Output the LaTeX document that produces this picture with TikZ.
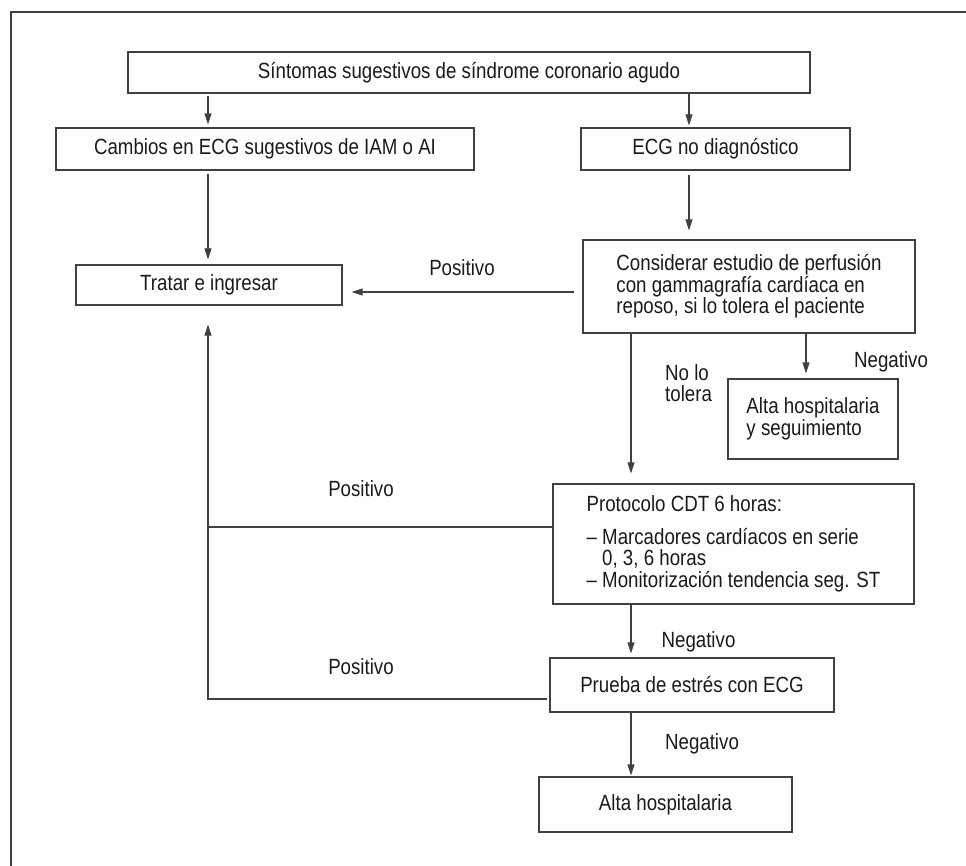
\documentclass[tikz,border=0pt]{standalone}
\usepackage{fontspec}
\setmainfont{Liberation Sans}[FakeStretch=0.85]
\usetikzlibrary{arrows.meta}
\definecolor{linec}{HTML}{404040}
\definecolor{textc}{HTML}{1A1A1A}
\tikzset{
  box/.style={draw=linec, line width=1.2pt, fill=white, inner sep=0pt, text=textc},
  lbl/.style={inner sep=0pt, text=textc},
  conn/.style={draw=linec, line width=1.2pt},
  arr/.style={conn, -{Triangle[length=11pt,width=7pt]}},
}
\begin{document}
\begin{tikzpicture}[x=1pt, y=-1pt, font={\fontsize{22}{21.5}\selectfont}]
\useasboundingbox (0,0) rectangle (966,866);
\draw[conn] (966,12) -- (11,12) -- (11,866);

% coordinates for connector positions
\coordinate (xL) at (208,0);
\coordinate (xR) at (689,0);
\coordinate (xM) at (631,0);
\coordinate (xN) at (806,0);
\coordinate (yP) at (0,292);
\coordinate (yQ) at (0,527);
\coordinate (yR) at (0,699);

% boxes
\node[box, minimum width=682, minimum height=41] (sint) at (469,72.5) {Síntomas sugestivos de síndrome coronario agudo};
\node[box, minimum width=418, minimum height=42] (camb) at (265,149) {Cambios en ECG sugestivos de IAM o AI};
\node[box, minimum width=269, minimum height=42] (ecgnd) at (715.5,149) {ECG no diagnóstico};
\node[box, minimum width=266, minimum height=40] (trat) at (209,285) {Tratar e ingresar};
\node[box, minimum width=332, minimum height=93, align=left] (cons) at (749,286.5) {Considerar estudio de perfusión\\con gammagrafía cardíaca en\\reposo, si lo tolera el paciente};
\node[box, minimum width=170, minimum height=80, align=left] (altaseg) at (813,419) {Alta hospitalaria\\y seguimiento};
\node[box, minimum width=361, minimum height=120, align=left] (prot) at (733.5,544) {Protocolo CDT 6 horas:\\[11pt]– Marcadores cardíacos en serie\\\hphantom{– }0, 3, 6 horas\\– Monitorización tendencia seg. ST};
\node[box, minimum width=284, minimum height=54] (prueba) at (692,685) {Prueba de estrés con ECG};
\node[box, minimum width=253, minimum height=55] (alta) at (665.5,804.5) {Alta hospitalaria};

% connectors
\draw[arr, shorten <=2pt, shorten >=3pt] (sint.south -| xL) -- (camb.north -| xL);
\draw[arr, shorten >=2pt] (sint.south -| xR) -- (ecgnd.north -| xR);
\draw[arr, shorten <=3pt, shorten >=5pt] (camb.south -| xL) -- (trat.north -| xL);
\draw[arr, shorten <=4pt, shorten >=9pt] (ecgnd.south -| xR) -- (cons.north -| xR);
\draw[arr, shorten <=8pt, shorten >=9pt] (cons.west |- yP) -- (trat.east |- yP);
\draw[arr, shorten >=10pt] (cons.south -| xM) -- (prot.north -| xM);
\draw[arr, shorten >=5pt] (cons.south -| xN) -- (altaseg.north -| xN);
\draw[arr, shorten >=19pt] (prot.west |- yQ) -| (trat.south -| xL);
\draw[conn, shorten <=2pt] (prueba.west |- yR) -| (xL |- yQ);
\draw[arr, shorten >=4pt] (prot.south -| xM) -- (prueba.north -| xM);
\draw[arr, shorten >=1pt] (prueba.south -| xM) -- (alta.north -| xM);

% labels
\node[lbl] (lpos1) at (462,268) {Positivo};
\node[lbl, align=left, anchor=west] (lnot) at (665,383) {No lo\\tolera};
\node[lbl] (lneg1) at (891,362) {Negativo};
\node[lbl] (lpos2) at (361,489) {Positivo};
\node[lbl] (lpos3) at (361,667) {Positivo};
\node[lbl] (lneg2) at (698.5,642) {Negativo};
\node[lbl] (lneg3) at (702,744) {Negativo};
\end{tikzpicture}
\end{document}
